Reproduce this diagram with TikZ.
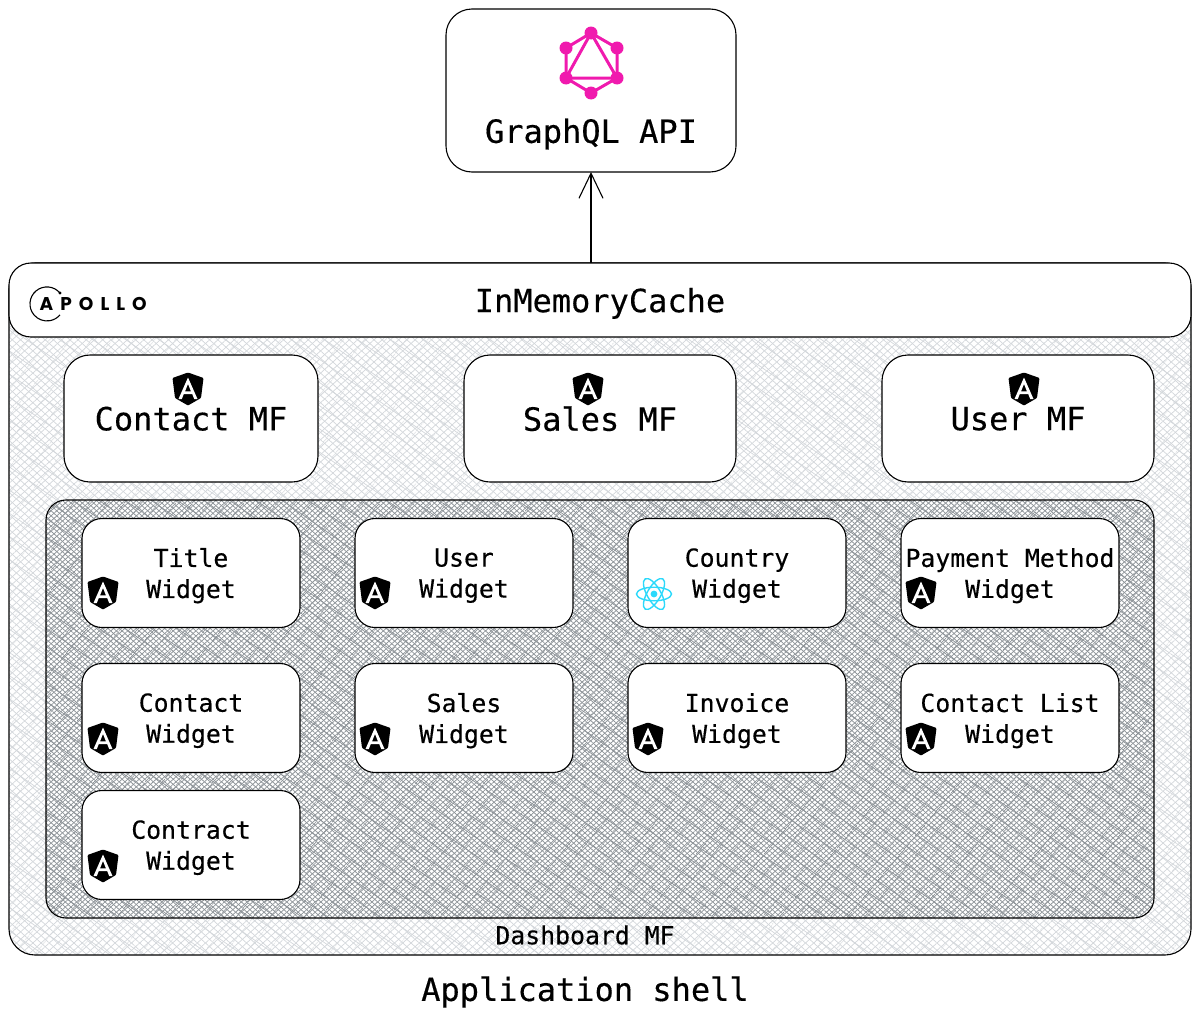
\documentclass[tikz,border=0pt]{standalone}
\usepackage{fontspec}
\usepackage{xcolor}
\usepackage{tikz}
\usetikzlibrary{arrows.meta,positioning,patterns.meta}
\setmonofont[FakeBold=0.35]{DejaVu Sans Mono}
\newfontfamily\logofont[LetterSpace=38]{Poppins}
\definecolor{gqlpink}{HTML}{F01AAE}
\definecolor{reactblue}{HTML}{2BD9FB}
\definecolor{hatchlight}{HTML}{D3D7DB}
\definecolor{hatchdark}{HTML}{8E9499}

\tikzset{
  shieldicon/.pic={
    \fill[black,rounded corners=1pt] (0,-16.5) -- (15.5,-11) -- (13,9) -- (0,16.5) -- (-13,9) -- (-15.5,-11) -- cycle;
    \fill[white,even odd rule] (0,-11.5) -- (9.5,10) -- (6.2,10) -- (4.2,5) -- (-4.2,5) -- (-6.2,10) -- (-9.5,10) -- cycle
      (0,-5) -- (-3,2.4) -- (3,2.4) -- cycle;
  },
  reacticon/.pic={
    \fill[reactblue] (0,0) circle (3.4);
    \foreach \ang in {0,60,120}
      \draw[reactblue,line width=1.4pt,rotate=\ang] (0,0) ellipse (17.5 and 6.8);
  },
  gqlicon/.pic={
    \draw[gqlpink,line width=3pt] (0,-30) -- (26,-15) -- (26,15) -- (0,30) -- (-25,15) -- (-25,-15) -- cycle;
    \draw[gqlpink,line width=3pt] (0,-30) -- (26,15) -- (-25,15) -- cycle;
    \foreach \px/\py in {0/-30,26/-15,26/15,0/30,-25/15,-25/-15}
      \fill[gqlpink] (\px,\py) circle (6.5);
  }
}

\begin{document}
\begin{tikzpicture}[x=1pt,y=-1pt,
   sketch/.style={draw,line width=1.1pt,rounded corners=26pt,outer sep=0pt,inner sep=0pt},
   shell/.style={sketch,minimum width=1182pt,minimum height=692pt,
       preaction={fill=white},
       preaction={pattern={Lines[angle=42,distance=5.5pt,line width=.7pt]},pattern color=hatchlight},
       preaction={pattern={Lines[angle=-42,distance=5.5pt,line width=.7pt]},pattern color=hatchlight},
       preaction={pattern={Lines[angle=51,distance=17pt,line width=.7pt]},pattern color=hatchlight},
       preaction={pattern={Lines[angle=-35,distance=19pt,line width=.7pt]},pattern color=hatchlight}},
   dashbox/.style={sketch,rounded corners=20pt,minimum width=1108pt,minimum height=418pt,
       preaction={fill=white},
       preaction={pattern={Lines[angle=42,distance=3.8pt,line width=.75pt]},pattern color=hatchdark},
       preaction={pattern={Lines[angle=-42,distance=3.8pt,line width=.75pt]},pattern color=hatchdark},
       preaction={pattern={Lines[angle=50,distance=13pt,line width=.75pt]},pattern color=hatchdark},
       preaction={pattern={Lines[angle=-35,distance=15pt,line width=.75pt]},pattern color=hatchdark}},
   cachebox/.style={sketch,fill=white,rounded corners=22pt,minimum width=1182pt,minimum height=74pt,
       text depth=-3pt,font=\ttfamily\fontsize{32}{36}\selectfont},
   mfbox/.style={sketch,fill=white,minimum height=127pt,text depth=-3pt,font=\ttfamily\fontsize{32}{36}\selectfont},
   widget/.style={sketch,fill=white,rounded corners=20pt,minimum width=218pt,minimum height=109pt,
       align=center,text depth=0pt,font=\ttfamily\fontsize{24.8}{31}\selectfont}]
  \useasboundingbox (0,0) rectangle (1200,1017);
  \node[sketch,fill=white,minimum width=290pt,minimum height=163pt] (api) at (591,90.5) {};
  \node[font=\ttfamily\fontsize{32}{36}\selectfont] (apititle) at (591,134) {GraphQL API};
  \pic at (591,63) {gqlicon};

  \node[shell] (appshell) at (600,609) {};
  \node[cachebox] (cache) at (600,300) {InMemoryCache};
  \draw[line width=1.1pt] (60,293) arc (-40:-320:17) coordinate (logoend);
  \fill (60,293) circle (1.6);
  \node[font=\logofont\bfseries\fontsize{18.5}{22}\selectfont,anchor=west,inner sep=0pt] (apollo) at (39.5,304) {APOLLO};

  % micro frontends
  \node[mfbox,minimum width=254pt] (contact) at (191,418.5) {Contact MF};
  \node[mfbox,minimum width=272pt] (sales) at (600,418.5) {Sales MF};
  \node[mfbox,minimum width=272pt] (user) at (1018,418.5) {User MF};
  \pic at (188,389) {shieldicon};
  \pic at (588,389) {shieldicon};
  \pic at (1024,389) {shieldicon};

  \node[dashbox] (dash) at (600,709) {};

  % widgets
  \node[widget] (title) at (191,573) {Title\\Widget};
  \node[widget,right=55pt of title] (userw) {User\\Widget};
  \node[widget,right=55pt of userw] (country) {Country\\Widget};
  \node[widget,right=55pt of country] (payment) {Payment Method\\Widget};
  \node[widget,below=36pt of title] (contactw) {Contact\\Widget};
  \node[widget,below=36pt of userw] (salesw) {Sales\\Widget};
  \node[widget,below=36pt of country] (invoice) {Invoice\\Widget};
  \node[widget,below=36pt of payment] (contactlist) {Contact List\\Widget};
  \node[widget,below=18pt of contactw] (contract) {Contract\\Widget};
  \pic at (103,593) {shieldicon};
  \pic at (375,593) {shieldicon};
  \pic at (654,594) {reacticon};
  \pic at (921,593) {shieldicon};
  \pic at (103,739) {shieldicon};
  \pic at (375,739) {shieldicon};
  \pic at (648,739) {shieldicon};
  \pic at (921,739) {shieldicon};
  \pic at (103,866) {shieldicon};

  \node[font=\ttfamily\fontsize{24.8}{30}\selectfont] (dashlabel) at (585,935) {Dashboard MF};
  \node[font=\ttfamily\fontsize{32}{36}\selectfont] (shelllabel) at (585,992) {Application shell};

  \draw[-{Straight Barb[length=25pt,width=24pt]},line width=1.1pt] (cache.north -| api.south) -- (api.south);
\end{tikzpicture}
\end{document}
